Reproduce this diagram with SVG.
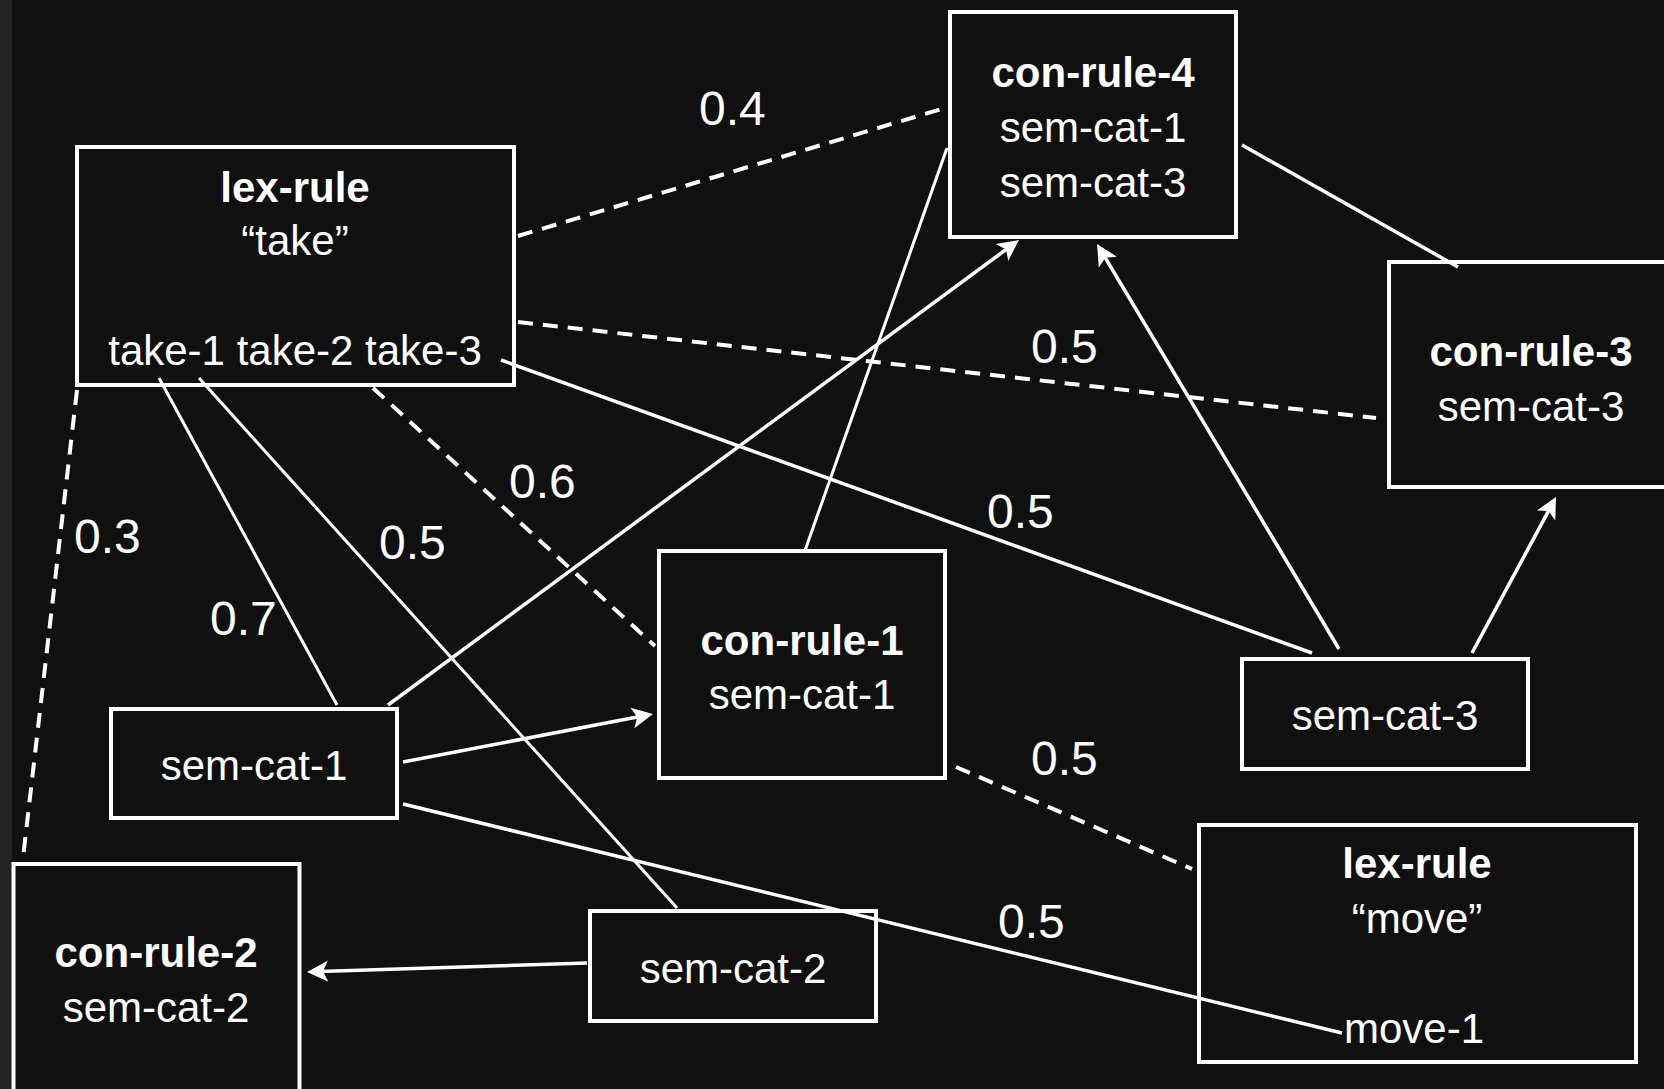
<svg xmlns="http://www.w3.org/2000/svg" width="1664" height="1089" viewBox="0 0 1664 1089">
  <style>
    .box { fill: #101010; stroke: #ffffff; stroke-width: 4; }
    .t { font-family: "Liberation Sans", Arial, sans-serif; font-size: 42px; fill: #ffffff; text-anchor: middle; }
    .b { font-weight: bold; }
    .lbl { font-family: "Liberation Sans", Arial, sans-serif; font-size: 48px; fill: #ffffff; }
    .ln { fill: none; stroke: #ffffff; stroke-width: 3.5; }
    .thin { stroke-width: 3; }
    .dash { stroke-dasharray: 15 10; stroke-width: 4; }
    .arr { marker-end: url(#ah); }
  </style>
  <defs>
    <marker id="ah" markerUnits="userSpaceOnUse" markerWidth="26" markerHeight="26" viewBox="-23 -13 26 26" refX="-12" refY="0" orient="auto">
      <path d="M0,0 L-21,-10.5 L-16,0 L-21,10.5 Z" fill="#ffffff"/>
    </marker>
  </defs>
  <rect x="0" y="0" width="1664" height="1089" fill="#101010"/>
  <rect x="0" y="0" width="12" height="1089" fill="#222222"/>

  <g id="lex-rule-take">
    <rect class="box" x="77" y="147" width="437" height="238"/>
    <text class="t b" x="295" y="202">lex-rule</text>
    <text class="t" x="295" y="255">“take”</text>
    <text class="t" x="295" y="365">take-1 take-2 take-3</text>
  </g>
  <g id="con-rule-4">
    <rect class="box" x="950" y="12" width="286" height="225"/>
    <text class="t b" x="1093" y="87">con-rule-4</text>
    <text class="t" x="1093" y="142">sem-cat-1</text>
    <text class="t" x="1093" y="197">sem-cat-3</text>
  </g>
  <g id="con-rule-3">
    <rect class="box" x="1389" y="262" width="286" height="225"/>
    <text class="t b" x="1531" y="366">con-rule-3</text>
    <text class="t" x="1531" y="421">sem-cat-3</text>
  </g>
  <g id="con-rule-1">
    <rect class="box" x="659" y="551" width="286" height="227"/>
    <text class="t b" x="802" y="655">con-rule-1</text>
    <text class="t" x="802" y="709">sem-cat-1</text>
  </g>
  <g id="sem-cat-1">
    <rect class="box" x="111" y="709" width="286" height="109"/>
    <text class="t" x="254" y="780">sem-cat-1</text>
  </g>
  <g id="con-rule-2">
    <rect class="box" x="13.5" y="864" width="286" height="240"/>
    <text class="t b" x="156" y="967">con-rule-2</text>
    <text class="t" x="156" y="1022">sem-cat-2</text>
  </g>
  <g id="sem-cat-2">
    <rect class="box" x="590" y="911" width="286" height="110"/>
    <text class="t" x="733" y="983">sem-cat-2</text>
  </g>
  <g id="sem-cat-3">
    <rect class="box" x="1242" y="659" width="286" height="110"/>
    <text class="t" x="1385" y="730">sem-cat-3</text>
  </g>
  <g id="lex-rule-move">
    <rect class="box" x="1199" y="825" width="437" height="237"/>
    <text class="t b" x="1417" y="878">lex-rule</text>
    <text class="t" x="1417" y="933">“move”</text>
    <text class="t" x="1414" y="1043">move-1</text>
  </g>

  <g id="connectors">
    <line class="ln dash" x1="518" y1="236" x2="948" y2="107"/>
    <line class="ln dash" x1="518" y1="322" x2="1376" y2="418"/>
    <line class="ln" x1="501" y1="360" x2="1312" y2="653"/>
    <line class="ln thin" x1="159" y1="378" x2="337" y2="705"/>
    <line class="ln thin" x1="199" y1="378" x2="677" y2="908"/>
    <line class="ln dash" x1="373" y1="388" x2="655" y2="646"/>
    <line class="ln dash" x1="77" y1="390" x2="23" y2="858"/>
    <line class="ln arr" x1="388" y1="705" x2="1009.3" y2="247.1"/>
    <line class="ln thin" x1="804.5" y1="552" x2="947" y2="148"/>
    <line class="ln arr" x1="403" y1="762" x2="641.2" y2="716.3"/>
    <line class="ln" x1="403" y1="804" x2="1342" y2="1033"/>
    <line class="ln arr" x1="587" y1="963" x2="319" y2="971.6"/>
    <line class="ln dash" x1="956" y1="767" x2="1192" y2="869"/>
    <line class="ln arr" x1="1339" y1="649" x2="1103.2" y2="254.3"/>
    <line class="ln arr" x1="1472" y1="653" x2="1550.3" y2="507.6"/>
    <line class="ln" x1="1242" y1="145" x2="1458" y2="267"/>

    <text class="lbl" x="699" y="125">0.4</text>
    <text class="lbl" x="1031" y="363">0.5</text>
    <text class="lbl" x="987" y="528">0.5</text>
    <text class="lbl" x="210" y="635">0.7</text>
    <text class="lbl" x="379" y="559">0.5</text>
    <text class="lbl" x="509" y="498">0.6</text>
    <text class="lbl" x="74" y="553">0.3</text>
    <text class="lbl" x="998" y="938">0.5</text>
    <text class="lbl" x="1031" y="775">0.5</text>
  </g>
</svg>
